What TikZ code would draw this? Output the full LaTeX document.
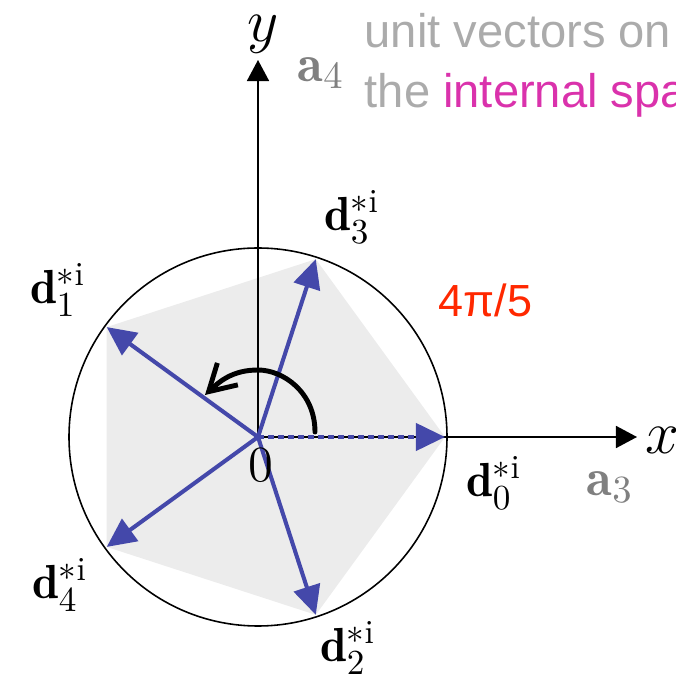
\documentclass[tikz,border=0pt]{standalone}
\usepackage{amsmath,amssymb}
\usepackage{xcolor}
\usepackage{fontspec}
\newfontfamily\sansfont{Liberation Sans}
\usepackage{tikz}
\usetikzlibrary{arrows.meta}
\definecolor{vecblue}{RGB}{68,72,170}
\definecolor{intmag}{RGB}{218,50,172}
\definecolor{angred}{RGB}{255,40,0}

\begin{document}
\begin{tikzpicture}[x=0.01cm,y=0.01cm,>={Triangle[length=0.21cm,width=0.22cm]},
  axis/.style={->,line width=0.45pt},
  vec/.style={->,vecblue,line width=1.15pt,>={Triangle[length=0.29cm,width=0.27cm]}},
  lab/.style={inner sep=0pt,font=\fontsize{13.6}{16}\selectfont},
  txt/.style={anchor=base west,inner sep=0pt,black!33,font=\sansfont\fontsize{13.4}{16}\selectfont}]
\useasboundingbox (-258,-245) rectangle (417,437);
\coordinate (o) at (0,0);
\foreach \k in {0,...,4} \coordinate (d\k) at ({144*\k}:187);
\fill[gray!15] (d0)--(d3)--(d1)--(d4)--(d2)--cycle;
\draw[line width=0.45pt] (o) circle[radius=189];
% axes
\coordinate (xend) at (379,0);
\coordinate (yend) at (0,377);
\draw[axis] (o)--(xend);
\draw[axis] (o)--(yend);
% vectors
\foreach \k in {1,...,4} \draw[vec] (o)--(d\k);
\draw[vec,dash pattern=on 0.06cm off 0.04cm] (o)--(d0);
% rotation
\coordinate (rs) at (57,5);
\coordinate (re) at (-53,42);
\draw[->,line width=1.4pt,line cap=round,>={Straight Barb[length=0.26cm,width=0.3cm]}]
  (rs) .. controls (57,45) and (25,67) .. (0,67) .. controls (-25,67) and (-38,56) .. (re);
% labels
\node[lab] (l0) at (236,-46) {$\mathbf{d}^{*\mathrm{i}}_0$};
\node[lab] (l1) at (-200,147) {$\mathbf{d}^{*\mathrm{i}}_1$};
\node[lab] (l2) at (90,-211) {$\mathbf{d}^{*\mathrm{i}}_2$};
\node[lab] (l3) at (94,220) {$\mathbf{d}^{*\mathrm{i}}_3$};
\node[lab] (l4) at (-198,-148) {$\mathbf{d}^{*\mathrm{i}}_4$};
\node[lab,font=\fontsize{15}{18}\selectfont] (zero) at (3,-28) {$0$};
\node[lab,font=\fontsize{16}{19}\selectfont] (xlab) at (404,-3) {$x$};
\node[lab,font=\fontsize{16}{19}\selectfont] (ylab) at (5,403) {$y$};
\node[lab,black!50,font=\fontsize{15}{18}\selectfont] (a3) at (352,-50) {$\mathbf{a}_3$};
\node[lab,black!50,font=\fontsize{15}{18}\selectfont] (a4) at (63,364) {$\mathbf{a}_4$};
\node[txt,angred,font=\sansfont\fontsize{12.8}{15}\selectfont] (ang) at (180,120) {4π/5};
\node[txt] (t1) at (106,389) {unit vectors on};
\node[txt] (t2) at (106,329) {the \textcolor{intmag}{internal spa}};
\end{tikzpicture}
\end{document}
